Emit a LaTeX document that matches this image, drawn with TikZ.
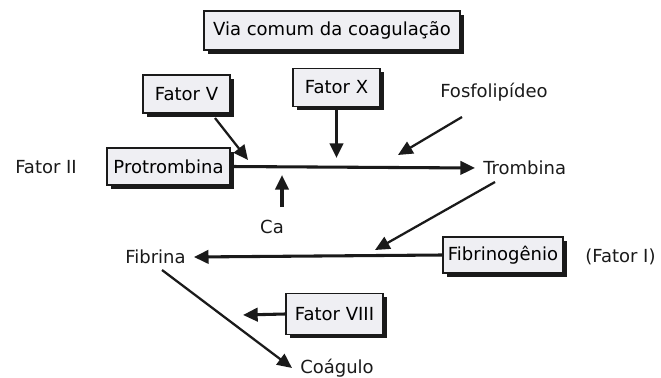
\documentclass[tikz,border=0pt]{standalone}
\usepackage{fontspec}
\setmainfont{DejaVu Sans}
\usepackage{xcolor}
\usepackage{tikz}
\usetikzlibrary{shadows,arrows.meta}
\definecolor{boxgray}{HTML}{EFEFF3}
\definecolor{ink}{HTML}{1A1A1A}
\tikzset{fatorbox/.style={draw=ink, line width=1.3pt, fill=boxgray, inner sep=0pt,
  drop shadow={shadow xshift=2.8pt, shadow yshift=-2.8pt, fill=ink, opacity=1}},
  %labels without a frame
  lbl/.style={inner sep=0pt, text=ink},
  seta/.style={draw=ink, line width=2.3pt, -{Triangle[length=11pt,width=10pt]}},
  setafina/.style={draw=ink, line width=1.7pt, -{Triangle[length=11pt,width=10pt]}}}

\begin{document}
\begin{tikzpicture}[x=0.75pt, y=-0.75pt, every node/.style={font=\fontsize{13.5}{16}\selectfont}]
\useasboundingbox (0,0) rectangle (661,378);
%\draw[step=50,color=gray] (0,0) grid (661,378);
\node[fatorbox, minimum width=256*0.75pt, minimum height=39*0.75pt] (via) at (332,30.5) {Via comum da coagulação};
\node[fatorbox, minimum width=87*0.75pt, minimum height=38*0.75pt] (fv) at (186.5,94) {Fator V};
\node[fatorbox, minimum width=87*0.75pt, minimum height=38*0.75pt] (fx) at (336.5,87.5) {Fator X};
\node[fatorbox, minimum width=123*0.75pt, minimum height=37*0.75pt] (protro) at (168.5,166.5) {Protrombina};
\node[fatorbox, minimum width=120*0.75pt, minimum height=36*0.75pt] (fibrinog) at (503,255) {Fibrinogênio};
\node[fatorbox, minimum width=97*0.75pt, minimum height=41*0.75pt] (fviii) at (334.5,314) {Fator VIII};
\node[lbl, anchor=west] (fii) at (15,167) {Fator II};
\node[lbl, anchor=west] (fosfo) at (440,92) {Fosfolipídeo};
\node[lbl, anchor=west] (trombina) at (483,168) {Trombina};
\node[lbl] (ca) at (272,227) {Ca};
\node[lbl, anchor=west] (fibrina) at (125,257) {Fibrina};
\node[lbl, anchor=west] (fi) at (585,257) {(Fator I)};
\node[lbl, anchor=west] (coag) at (300,368) {Coágulo};
% free ends of the arrows
\coordinate (fvstart) at (215,118);
\coordinate (fvtip) at (248,160);
\coordinate (fxtip) at (336.5,158);
\coordinate (fosfostart) at (462,117);
\coordinate (fosfotip) at (398,155);
\coordinate (castart) at (282,207);
\coordinate (catip) at (282,175);
\coordinate (tromstart) at (495,182);
\coordinate (tromtip) at (375,250);
\coordinate (fibstart) at (162,270);
\coordinate (fviiitip) at (243,315);
% main reactions
\draw[seta] (protro.east) -- ([xshift=-6pt]trombina.west);
\draw[seta] (fibrinog.west) -- ([xshift=6pt]fibrina.east);
\draw[seta] (fx.south) -- (fxtip);
\draw[seta] (castart) -- (catip);
\draw[seta] (fviii.west) -- (fviiitip);
\draw[setafina] (fvstart) -- (fvtip);
\draw[setafina] (fosfostart) -- (fosfotip);
\draw[setafina] (tromstart) -- (tromtip);
\draw[setafina] (fibstart) -- ([xshift=-6pt]coag.west);
\end{tikzpicture}
\end{document}
